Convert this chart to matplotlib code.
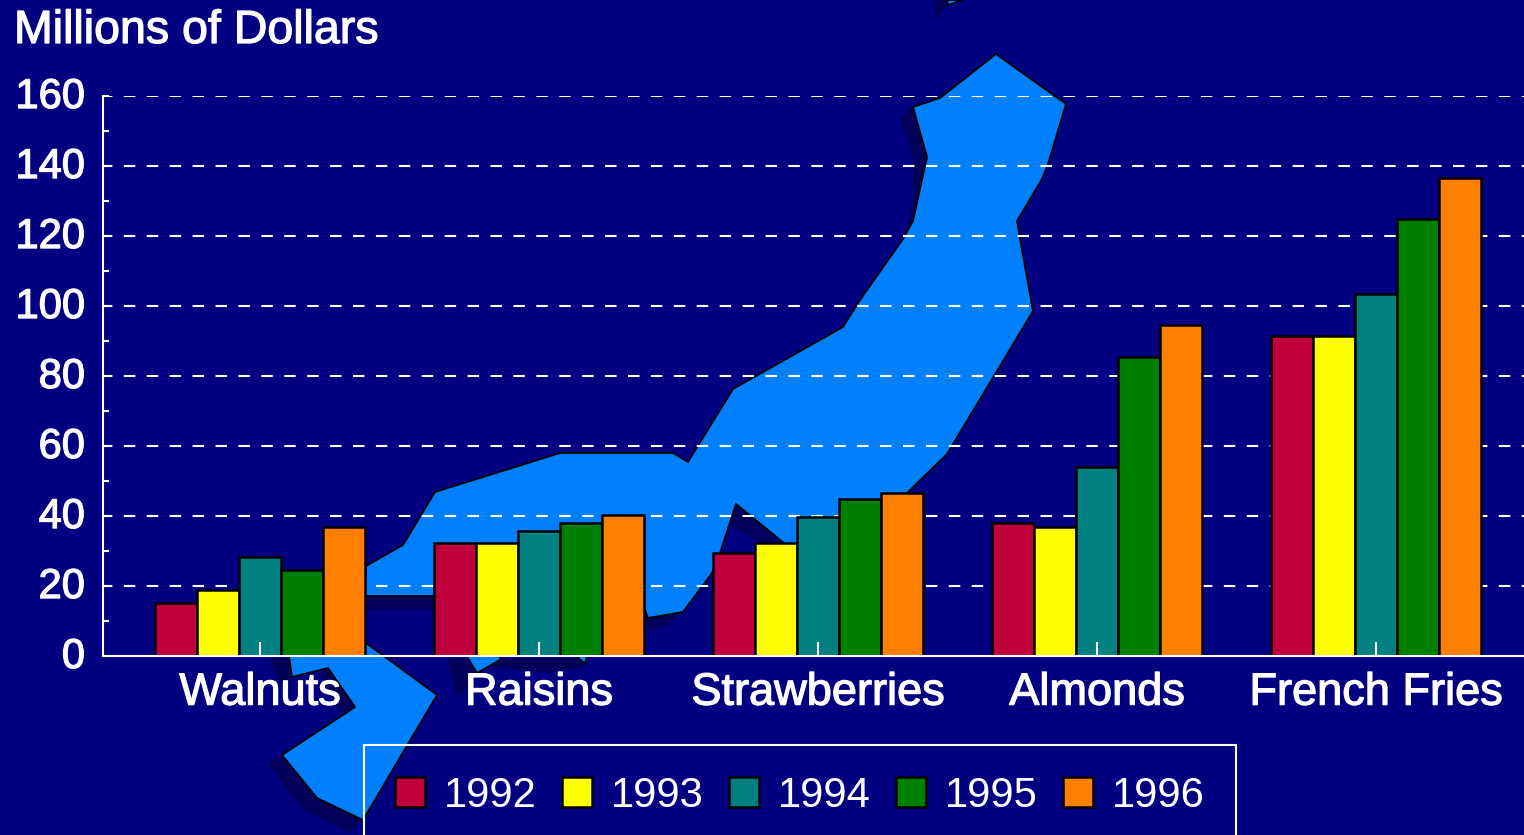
import numpy as np
import matplotlib
matplotlib.use("Agg")
import matplotlib.pyplot as plt
from matplotlib.patches import Polygon
from matplotlib.transforms import ScaledTranslation
import matplotlib.patheffects as pe

plt.rcParams['font.family'] = ['Liberation Sans', 'DejaVu Sans']

crops = ["Walnuts", "Raisins", "Strawberries", "Almonds", "French Fries"]
years = ["1992", "1993", "1994", "1995", "1996"]
v1992 = [15.1, 32.3, 29.4, 38.0, 91.4]
v1993 = [18.9, 32.3, 32.3, 37.0, 91.4]
v1994 = [28.3, 35.7, 39.7, 54.0, 103.4]
v1995 = [24.5, 38.0, 45.0, 85.4, 125.0]
v1996 = [37.0, 40.3, 46.6, 94.6, 136.6]
series = [v1992, v1993, v1994, v1995, v1996]
yticks = [0, 20, 40, 60, 80, 100, 120, 140, 160]
colors = ["#C0003C", "#FFFF00", "#008080", "#008000", "#FF8000"]

W, H = 1524, 835
NAVY = "#000080"
LAND = "#0080FF"
SHADE = "#00005A"

# background map of Japan, in picture pixels (decoration only)
land = [
    [(996, 54), (1066, 104), (1048, 164), (1042, 179), (1017, 221), (1022, 250), (1033, 311),
     (997, 371), (947, 454), (907, 493), (790, 548), (736, 504), (720, 553), (712, 573),
     (683, 612), (648, 618), (640, 596), (365, 596), (366, 566), (403, 545), (435, 492),
     (560, 453), (673, 453), (688, 462), (733, 389), (843, 327), (860, 300), (903, 239),
     (913, 221), (927, 157), (913, 107), (940, 98)],
    [(288, 650), (366, 643), (437, 695), (363, 820), (317, 798), (282, 755), (355, 707),
     (328, 668), (292, 677)],
    [(463, 650), (500, 650), (500, 660), (477, 673)],
    [(570, 650), (588, 650), (585, 664)],
    [(947, 0), (963, 0), (948, 5)],
]
shade = [
    [(900, 118), (913, 107), (927, 157), (923, 182), (913, 225), (907, 229), (913, 200), (913, 157)],
    [(736, 504), (780, 543), (767, 546), (730, 525)],
    [(365, 596), (436, 596), (436, 610), (365, 610)],
    [(647, 558), (653, 562), (648, 577), (646, 577)],
    [(646, 618), (677, 613), (670, 625), (648, 630)],
    [(328, 668), (355, 707), (340, 713), (320, 673)],
    [(268, 763), (282, 755), (317, 798), (362, 820), (350, 832), (303, 810)],
    [(270, 658), (288, 658), (292, 677), (280, 687)],
    [(448, 658), (463, 658), (477, 673), (460, 697), (455, 693)],
    [(500, 658), (588, 658), (583, 667), (550, 673), (490, 667)],
    [(935, 0), (947, 0), (947, 7), (935, 20)],
]

fig = plt.figure(figsize=(W / 100, H / 100), dpi=100, facecolor=NAVY)

bg = fig.add_axes([0, 0, 1, 1], zorder=0)
bg.set_xlim(0, W)
bg.set_ylim(H, 0)
bg.axis("off")
for p in shade:
    bg.add_patch(Polygon(p, closed=True, fc=SHADE, ec="none"))
for p in land:
    bg.add_patch(Polygon(p, closed=True, fc=LAND, ec="black", lw=1.3))

thick = [pe.withStroke(linewidth=0.9, foreground="white")]

# main axes: x from 103 to the right edge, y=0 at 656 and y=160 at 96
ax = fig.add_axes([103 / W, 1 - 656 / H, (W - 103) / W, 560 / H], zorder=1)
ax.patch.set_alpha(0)
ax.set_xlim((103 - 260) / 279, (W - 260) / 279)
ax.set_ylim(0, 160)

x = np.arange(len(crops))
width = 42 / 279
handles = []
for i, vals in enumerate(series):
    b = ax.bar(x + (i - 2) * width, vals, width, color=colors[i], edgecolor="black",
               linewidth=1.8, label=years[i], zorder=2)
    handles.append(b)

for y in yticks[1:]:
    ax.axhline(y, color="white", lw=1.5, linestyle=(1, (5.5, 5.5)), zorder=1)

ax.set_axisbelow(False)
ax.set_xticks(x)
ax.set_xticklabels(crops, fontsize=32.5, color="white", path_effects=thick)
ax.set_yticks(yticks)
ax.set_yticklabels([str(t) for t in yticks], fontsize=30, color="white", path_effects=thick)
ax.set_yticks(np.arange(10, 160, 20), minor=True)
ax.tick_params(axis="x", direction="in", length=10, width=1.5, color="white", pad=12)
ax.tick_params(axis="y", which="major", direction="in", length=4.5, width=1.5, color="white", pad=13)
ax.tick_params(axis="y", which="minor", direction="in", length=4.5, width=1.5, color="white")
ax.spines["top"].set_visible(False)
ax.spines["right"].set_visible(False)
for s in ["left", "bottom"]:
    ax.spines[s].set_color("white")
    ax.spines[s].set_linewidth(1.5)

# y labels sit a little above their gridlines in the original
up = ScaledTranslation(0, 2.5 / 72, fig.dpi_scale_trans)
for lab in ax.get_yticklabels():
    lab.set_transform(lab.get_transform() + up)

bg.text(14, 31, "Millions of Dollars", fontsize=33.5, color="white", va="center", ha="left",
        path_effects=thick)

leg = ax.legend(handles=handles, ncol=5, loc="upper left",
                bbox_to_anchor=(364 / W, 1 - 745 / H), bbox_transform=fig.transFigure,
                borderaxespad=0, fontsize=30, labelcolor="white", frameon=True,
                facecolor="none", edgecolor="white", fancybox=False,
                handlelength=0.72, handleheight=0.72, handletextpad=0.46,
                columnspacing=0.6, borderpad=0.74)
leg.get_frame().set_linewidth(1.5)
leg.get_frame().set_alpha(None)

fig.savefig("out.png", dpi=100, facecolor=NAVY)
